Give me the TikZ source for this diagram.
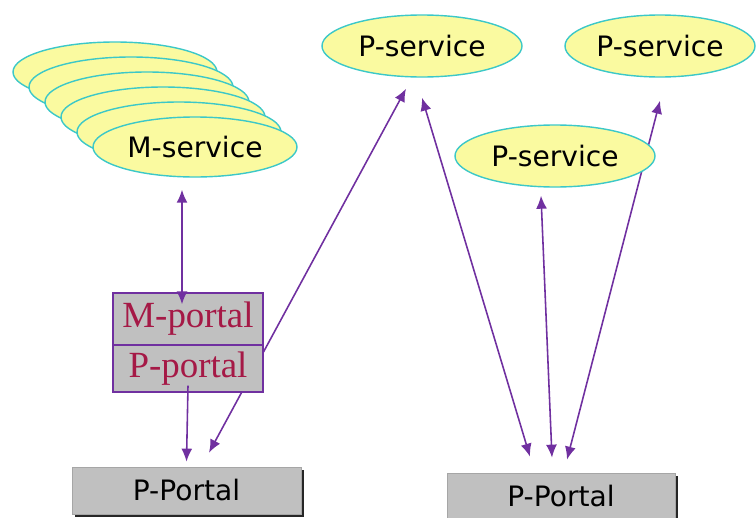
\documentclass[tikz,border=0pt]{standalone}
\usepackage{fontspec}
\setmainfont{Liberation Serif}
\setsansfont{DejaVu Sans}
\usepackage{tikz}
\usetikzlibrary{calc,shapes,positioning}
\usetikzlibrary{shadows}
\usetikzlibrary{backgrounds}
\usetikzlibrary{arrows.meta}
\definecolor{svcfill}{RGB}{250,250,160}
\definecolor{svcline}{RGB}{60,200,200}
\definecolor{linkcol}{RGB}{112,48,160}
\definecolor{portred}{RGB}{165,25,70}
\definecolor{boxgray}{RGB}{192,192,192}
\tikzset{>={Latex[width=2.2mm,length=2.6mm]}}

\begin{document}
\begin{tikzpicture}
        \tikzstyle{svc} = [ellipse, draw=svcline, fill=svcfill, thick, minimum width=4cm,
          minimum height=1.24cm, inner sep=0pt, font=\sffamily\fontsize{16}{18}\selectfont]
        \tikzstyle{mpbox} = [draw=linkcol, line width=0.8pt, fill=boxgray, minimum width=3cm, inner sep=0pt,
          text=portred, font=\fontsize{21}{23}\selectfont]
        \tikzstyle{portal} = [draw=gray!70, fill=boxgray, minimum width=4.58cm, minimum height=0.94cm,
          font=\sffamily\fontsize{16}{18}\selectfont,
          drop shadow={shadow xshift=0.05cm, shadow yshift=-0.05cm, fill=black!85, opacity=1}]
        \tikzstyle{link} = [linkcol, line width=0.9pt]

        \useasboundingbox (0,0) rectangle (15.12,-10.36);

        % stack of M-services
        \foreach \k in {5,...,1}
          \node[svc, minimum width=4.08cm, minimum height=1.2cm] (m\k) at ({3.9-0.32*\k},{-2.94+0.3*\k}) {};
        \node[svc, minimum width=4.08cm, minimum height=1.2cm] (msvc) at (3.9,-2.94) {M-service};

        \node[svc] (psvcA) at (8.44,-0.92) {P-service};
        \node[svc, minimum width=3.8cm] (psvcB) at (13.2,-0.92) {P-service};
        \node[svc] (psvcC) at (11.1,-3.12) {P-service};

        \node[mpbox, minimum height=1.04cm] (mport) at (3.76,-6.38) {M-portal};
        \node[mpbox, minimum height=0.94cm] (pport) at (3.76,-7.37) {P-portal};

        \node[portal] (lport) at (3.73,-9.81) {P-Portal};
        \node[portal, minimum width=4.56cm] (rport) at (11.22,-9.93) {P-Portal};

        \begin{scope}[on background layer]
          \draw[link, <->] ([xshift=-0.32cm,yshift=-0.22cm]psvcA.south) to ([xshift=0.45cm,yshift=0.28cm]lport.north);
          \draw[link, <->] ([yshift=-0.4cm]psvcA.south) to ([xshift=-0.62cm,yshift=0.32cm]rport.north);
          \draw[link, <->] ([xshift=-0.28cm,yshift=-0.16cm]psvcC.south) to ([xshift=-0.18cm,yshift=0.3cm]rport.north);
          \draw[link, <->] ([yshift=-0.46cm]psvcB.south) to ([xshift=0.12cm,yshift=0.26cm]rport.north);
        \end{scope}

        \draw[link, <->] ([xshift=-0.26cm,yshift=-0.24cm]msvc.south) to ([xshift=-0.12cm,yshift=-0.24cm]mport.north);
        \draw[link, ->] ([yshift=0.14cm]pport.south) to ([yshift=0.1cm]lport.north);
      \end{tikzpicture}
\end{document}
